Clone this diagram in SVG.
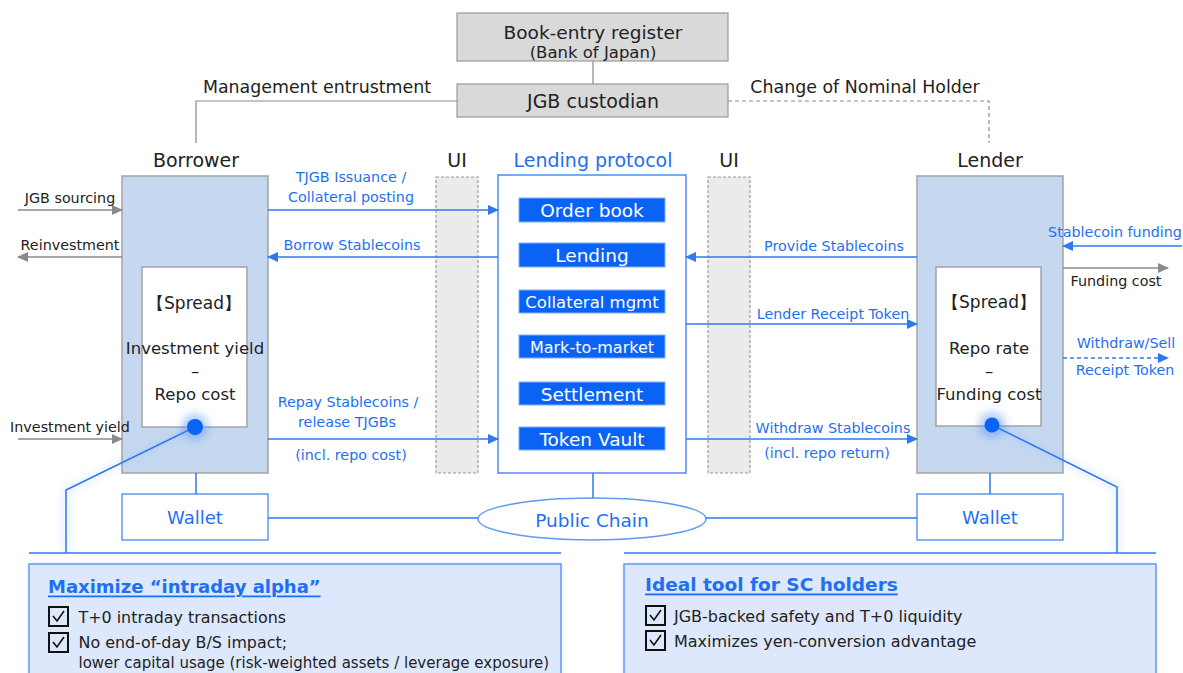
<svg xmlns="http://www.w3.org/2000/svg" width="1183" height="673" viewBox="0 0 1183 673">
<defs>
<style>
.t{font-family:"DejaVu Sans",Verdana,sans-serif;dominant-baseline:central;text-anchor:middle;fill:#222}
.l{text-anchor:start}
.b{fill:#1f6ff2}
.w{fill:#fff}
.s{font-size:14.3px}
.h{font-size:19px}
.gbox{fill:#d9d9d9;stroke:#9a9a9a;stroke-width:1.2}
.party{fill:#c5d8f0;stroke:#a3a3a3;stroke-width:1.5}
.inner{fill:#fff;stroke:#a3a3a3;stroke-width:1.5}
.ui{fill:#ebebeb;stroke:#9a9a9a;stroke-width:1.2;stroke-dasharray:3 2}
.sub{fill:#0b63f6;stroke:#7fb0fa;stroke-width:1}
.bl{stroke:#2f78f0;stroke-width:1.5;fill:none}
.gl{stroke:#8a8a8a;stroke-width:1.5;fill:none}
.panel{fill:#dde8fc;stroke:#5f98f5;stroke-width:1.5}
.cb{fill:none;stroke:#111;stroke-width:2}
.ck{fill:none;stroke:#111;stroke-width:1.6}
</style>
<marker id="ab" markerUnits="userSpaceOnUse" markerWidth="11" markerHeight="10" refX="10" refY="5" orient="auto"><path d="M0,0 L11,5 L0,10 z" fill="#2f78f0"/></marker>
<marker id="ag" markerUnits="userSpaceOnUse" markerWidth="11" markerHeight="10" refX="10" refY="5" orient="auto"><path d="M0,0 L11,5 L0,10 z" fill="#8a8a8a"/></marker>
<filter id="glow" x="-2" y="-2" width="5" height="5"><feGaussianBlur stdDeviation="4"/></filter>
<filter id="pglow" x="-0.05" y="-0.2" width="1.1" height="1.4"><feGaussianBlur stdDeviation="3"/></filter>
</defs>
<rect width="1183" height="673" fill="#fff"/>

<g id="book-entry-register">
<rect class="gbox" x="457" y="13" width="271" height="48"/>
<text class="t" x="593" y="32" font-size="18.5">Book-entry register</text>
<text class="t" x="593" y="52" font-size="16.5">(Bank of Japan)</text>
</g>
<g id="jgb-custodian">
<rect class="gbox" x="457" y="84" width="271" height="33"/>
<text class="t h" x="593" y="101">JGB custodian</text>
</g>

<g id="borrower">
<text class="t h" x="196" y="160">Borrower</text>
<rect class="party" x="122" y="176" width="146" height="297"/>
<rect class="inner" x="142" y="267" width="105" height="160"/>
<text class="t" x="194" y="303" font-size="17" font-family="'DejaVu Sans','Noto Sans CJK JP',sans-serif">【Spread】</text>
<text class="t" x="195" y="348" font-size="16.5">Investment yield</text>
<text class="t" x="195" y="371" font-size="16.5">–</text>
<text class="t" x="195" y="394" font-size="16.5">Repo cost</text>
</g>

<g id="ui-left">
<text class="t h" x="457" y="160">UI</text>
<rect class="ui" x="436" y="177" width="42" height="296"/>
</g>
<g id="ui-right">
<text class="t h" x="729" y="160">UI</text>
<rect class="ui" x="708" y="177" width="42" height="296"/>
</g>

<g id="lending-protocol">
<text class="t h b" x="593" y="160">Lending protocol</text>
<rect x="498" y="175" width="188" height="298" fill="#fff" stroke="#4d8cf5" stroke-width="1.5"/>
<rect class="sub" x="519" y="198" width="146" height="24"/>
<text class="t w" x="592" y="210.5" font-size="18.5">Order book</text>
<rect class="sub" x="519" y="243" width="146" height="24"/>
<text class="t w" x="592" y="255.5" font-size="18.5">Lending</text>
<rect class="sub" x="519" y="290" width="146" height="23"/>
<text class="t w" x="592" y="302" font-size="16.5">Collateral mgmt</text>
<rect class="sub" x="519" y="335" width="146" height="23"/>
<text class="t w" x="592" y="347" font-size="16">Mark-to-market</text>
<rect class="sub" x="519" y="382" width="146" height="23"/>
<text class="t w" x="592" y="394" font-size="18.5">Settlement</text>
<rect class="sub" x="519" y="427" width="146" height="23"/>
<text class="t w" x="592" y="439" font-size="18.5">Token Vault</text>
</g>

<g id="lender">
<text class="t h" x="990" y="160">Lender</text>
<rect class="party" x="917" y="176" width="146" height="297"/>
<rect class="inner" x="936" y="267" width="105" height="159"/>
<text class="t" x="989" y="302" font-size="17" font-family="'DejaVu Sans','Noto Sans CJK JP',sans-serif">【Spread】</text>
<text class="t" x="989" y="348" font-size="16.5">Repo rate</text>
<text class="t" x="989" y="371" font-size="16.5">–</text>
<text class="t" x="989" y="394" font-size="16.5">Funding cost</text>
</g>

<g id="wallet-borrower">
<rect x="122" y="494" width="146" height="46" fill="#fff" stroke="#5f98f5" stroke-width="1.5"/>
<text class="t b" x="195" y="517" font-size="18">Wallet</text>
</g>
<g id="wallet-lender">
<rect x="917" y="494" width="146" height="46" fill="#fff" stroke="#5f98f5" stroke-width="1.5"/>
<text class="t b" x="990" y="517" font-size="18">Wallet</text>
</g>
<g id="public-chain">
<ellipse cx="592" cy="519" rx="114" ry="21" fill="#fff" stroke="#5f98f5" stroke-width="1.5"/>
<text class="t b" x="592" y="520" font-size="18.5">Public Chain</text>
</g>

<g id="connectors">
<line x1="593" y1="61" x2="593" y2="84" stroke="#8a8a8a" stroke-width="1.2"/>
<polyline points="457,101 196,101 196,143" fill="none" stroke="#8a8a8a" stroke-width="1.2"/>
<polyline points="728,101 989,101 989,143" fill="none" stroke="#8a8a8a" stroke-width="1.2" stroke-dasharray="4 3"/>
<line class="gl" x1="18" y1="210" x2="122" y2="210" marker-end="url(#ag)"/>
<line class="gl" x1="122" y1="257" x2="18" y2="257" marker-end="url(#ag)"/>
<line class="gl" x1="18" y1="439" x2="122" y2="439" marker-end="url(#ag)"/>
<line class="bl" x1="268" y1="210" x2="498" y2="210" marker-end="url(#ab)"/>
<line class="bl" x1="498" y1="257" x2="268" y2="257" marker-end="url(#ab)"/>
<line class="bl" x1="268" y1="439" x2="498" y2="439" marker-end="url(#ab)"/>
<line class="bl" x1="917" y1="257" x2="686" y2="257" marker-end="url(#ab)"/>
<line class="bl" x1="686" y1="324" x2="917" y2="324" marker-end="url(#ab)"/>
<line class="bl" x1="686" y1="439" x2="917" y2="439" marker-end="url(#ab)"/>
<line class="bl" x1="1182" y1="246" x2="1063" y2="246" marker-end="url(#ab)"/>
<line class="gl" x1="1063" y1="268" x2="1168" y2="268" marker-end="url(#ag)"/>
<line class="bl" x1="1063" y1="358" x2="1168" y2="358" stroke-dasharray="4 3" marker-end="url(#ab)"/>
<line class="bl" x1="196" y1="473" x2="196" y2="494"/>
<line class="bl" x1="990" y1="473" x2="990" y2="494"/>
<line class="bl" x1="593" y1="473" x2="593" y2="498"/>
<line class="bl" x1="268" y1="518" x2="478" y2="518"/>
<line class="bl" x1="706" y1="518" x2="917" y2="518"/>
<polyline points="195,427 66,490 66,553" fill="none" stroke="#7fb0fa" stroke-width="4" opacity="0.35" filter="url(#glow)"/>
<polyline points="992,425 1117,487 1117,553" fill="none" stroke="#7fb0fa" stroke-width="4" opacity="0.35" filter="url(#glow)"/>
<polyline class="bl" points="195,427 66,490 66,553"/>
<polyline class="bl" points="992,425 1117,487 1117,553"/>
<line class="bl" x1="29" y1="553" x2="561" y2="553"/>
<line class="bl" x1="624" y1="553" x2="1156" y2="553"/>
<circle cx="195" cy="427" r="13" fill="#4d8cf5" opacity="0.45" filter="url(#glow)"/>
<circle cx="992" cy="425" r="13" fill="#4d8cf5" opacity="0.45" filter="url(#glow)"/>
<circle cx="195" cy="427" r="8" fill="#0b63f6"/>
<circle cx="992" cy="425" r="7.5" fill="#0b63f6"/>

<text class="t" x="317" y="87" font-size="17.4">Management entrustment</text>
<text class="t" x="865" y="87" font-size="17.4">Change of Nominal Holder</text>
<text class="t s" x="70" y="198">JGB sourcing</text>
<text class="t s" x="70" y="245">Reinvestment</text>
<text class="t s" x="70" y="427">Investment yield</text>
<text class="t s b" x="351" y="177">TJGB Issuance /</text>
<text class="t s b" x="351" y="197">Collateral posting</text>
<text class="t s b" x="352" y="245">Borrow Stablecoins</text>
<text class="t s b" x="348" y="402">Repay Stablecoins /</text>
<text class="t s b" x="347" y="422">release TJGBs</text>
<text class="t s b" x="351" y="455">(incl. repo cost)</text>
<text class="t s b" x="834" y="246">Provide Stablecoins</text>
<text class="t s b" x="833" y="314">Lender Receipt Token</text>
<text class="t s b" x="833" y="428">Withdraw Stablecoins</text>
<text class="t s b" x="827" y="453">(incl. repo return)</text>
<text class="t s b" x="1115" y="232">Stablecoin funding</text>
<text class="t s" x="1116" y="281">Funding cost</text>
<text class="t s b" x="1126" y="343">Withdraw/Sell</text>
<text class="t s b" x="1125" y="370">Receipt Token</text>
</g>

<g id="panel-borrower">
<rect x="29" y="564" width="532" height="120" fill="#b8d0fb" opacity="0.5" filter="url(#pglow)"/>
<rect class="panel" x="29" y="564" width="532" height="120"/>
<text class="t l b" x="48" y="586" font-size="18" font-weight="bold" text-decoration="underline">Maximize “intraday alpha”</text>
<rect class="cb" x="49" y="607" width="19" height="19"/>
<path class="ck" d="M53,616 L57,621 L64,611"/>
<text class="t l" x="78.5" y="617" font-size="15.9">T+0 intraday transactions</text>
<rect class="cb" x="49" y="633" width="19" height="19"/>
<path class="ck" d="M53,642 L57,647 L64,637"/>
<text class="t l" x="78.5" y="642" font-size="15.9">No end-of-day B/S impact;</text>
<text class="t l" x="78.5" y="663" font-size="15">lower capital usage (risk-weighted assets / leverage exposure)</text>
</g>

<g id="panel-lender">
<rect x="624" y="564" width="532" height="120" fill="#b8d0fb" opacity="0.5" filter="url(#pglow)"/>
<rect class="panel" x="624" y="564" width="532" height="120"/>
<text class="t l b" x="645" y="584" font-size="18.5" font-weight="bold" text-decoration="underline">Ideal tool for SC holders</text>
<rect class="cb" x="646" y="606" width="19" height="19"/>
<path class="ck" d="M650,615 L654,620 L661,610"/>
<text class="t l" x="674" y="616" font-size="16">JGB-backed safety and T+0 liquidity</text>
<rect class="cb" x="646" y="631" width="19" height="19"/>
<path class="ck" d="M650,640 L654,645 L661,635"/>
<text class="t l" x="674" y="641" font-size="16">Maximizes yen-conversion advantage</text>
</g>
</svg>
